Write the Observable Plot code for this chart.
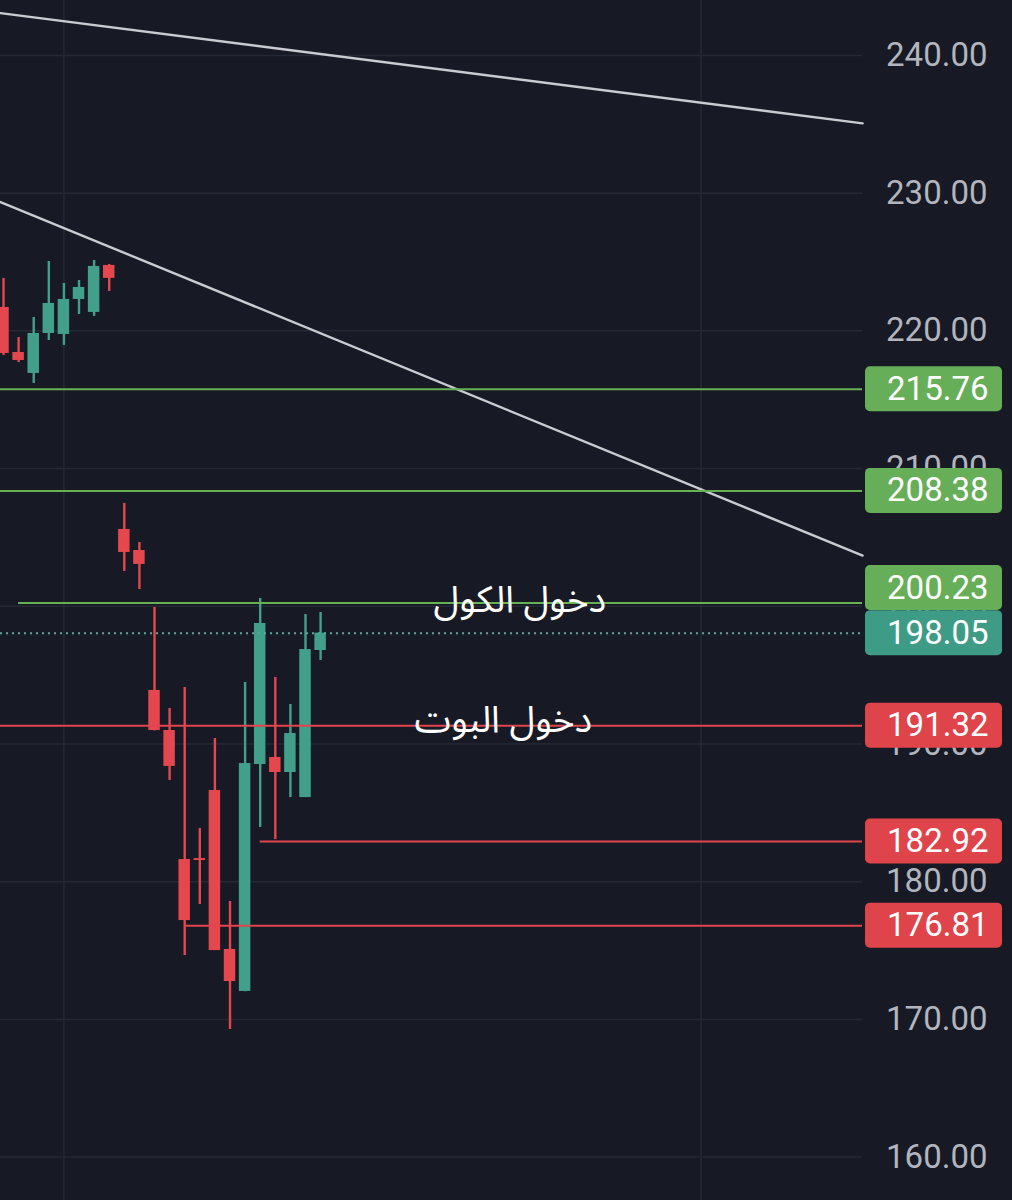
<!DOCTYPE html>
<html>
<head>
<meta charset="utf-8">
<script src="https://cdn.jsdelivr.net/npm/d3@7"></script>
<script src="https://cdn.jsdelivr.net/npm/@observablehq/plot@0.6"></script>
<style>
  html, body { margin: 0; padding: 0; background: #171a25; }
  #chart svg { display: block; }
</style>
</head>
<body>
<div id="chart"></div>
<script>
// ---- data ----
const opens  = [221.70, 218.43, 216.91, 219.81, 219.74, 222.28, 221.34, 224.75, 205.58, 204.05, 193.89, 190.98, 181.61, 181.68, 186.62, 175.08, 172.03, 188.51, 189.02, 187.93, 186.11, 196.79];
const highs  = [223.81, 219.52, 220.97, 225.04, 223.44, 223.66, 225.11, 224.82, 207.47, 204.63, 199.91, 192.58, 194.10, 183.86, 190.40, 178.56, 194.47, 200.57, 194.83, 192.87, 199.40, 199.55];
const lows   = [218.21, 217.70, 216.18, 219.30, 218.94, 221.19, 221.05, 222.86, 202.53, 201.22, 190.95, 187.35, 174.64, 178.34, 175.00, 169.27, 172.00, 183.94, 183.06, 186.11, 186.11, 196.06];
const closes = [218.36, 217.85, 219.81, 221.99, 222.28, 223.15, 224.68, 223.81, 203.91, 203.04, 190.98, 188.37, 177.18, 181.54, 175.00, 172.75, 188.58, 198.75, 187.93, 190.76, 196.86, 198.05];

const levelValues = [215.76, 208.38, 200.23, 191.32, 182.92, 176.81];
const levelKinds  = ["up", "up", "up", "down", "down", "down"];
const levelStarts = [null, null, 1, null, 17, 12];          // bar index where the level line starts
const levelLabelY = [215.76, 208.38, 201.33, 191.32, 182.92, 176.81]; // displayed label position
const lastPrice = 198.05;

const trendStartX = [-0.2, -0.2];
const trendEndX   = [56.9, 56.9];
const trendStartY = [243.07, 229.35];
const trendEndY   = [235.07, 203.68];

const axisTicks = [160, 170, 180, 190, 200, 210, 220, 230, 240];
const gridX = [4, 46.2];

const annoTexts = ["دخول الكول", "دخول البوت"];
const annoX = [34.2, 33.1];
const annoY = [200.45, 191.75];

// ---- styles / layout ----
const bg = "#171a25";
const gridColor = "#252935";
const upColor = "#42a08a";
const downColor = "#e4474e";
const levelUp = "#66b156";
const levelDown = "#e2444b";
const boxUp = "#67ae58";
const boxDown = "#e0444b";
const boxLast = "#3e9c86";
const axisText = "#b2b5be";

const W = 1012, H = 1200, MR = 150;
const plotW = W - MR;
const xDomain = [-0.2, 56.89];
const yDomain = [156.85, 243.99];
const pxToX = px => xDomain[0] + px / plotW * (xDomain[1] - xDomain[0]);
const boxX1 = pxToX(865), boxX2 = pxToX(1002);
const boxHalf = 22.5 * (yDomain[1] - yDomain[0]) / H;

const candles = opens.map((o, i) => ({i, open: o, high: highs[i], low: lows[i], close: closes[i]}));
const candleColor = d => d.close >= d.open ? upColor : downColor;

const levels = levelValues.map((v, k) => ({
  v, kind: levelKinds[k],
  start: levelStarts[k] == null ? xDomain[0] : levelStarts[k],
  labelY: levelLabelY[k],
  text: v.toFixed(2)
}));
const allLabels = [...levels.map(d => ({y: d.labelY, text: d.text, fill: d.kind === "up" ? boxUp : boxDown})),
                   {y: lastPrice, text: lastPrice.toFixed(2), fill: boxLast}];

const trends = trendStartX.flatMap((x, k) => [
  {k, x, y: trendStartY[k]},
  {k, x: trendEndX[k], y: trendEndY[k]}
]);
const annos = annoTexts.map((t, k) => ({t, x: annoX[k], y: annoY[k]}));

const chart = Plot.plot({
  width: W, height: H,
  marginLeft: 0, marginRight: MR, marginTop: 0, marginBottom: 0,
  x: {domain: xDomain, axis: null},
  y: {domain: yDomain, axis: null},
  style: {background: bg, fontFamily: "Roboto, 'Noto Sans', sans-serif"},
  marks: [
    // grid
    Plot.ruleY(axisTicks, {y: d => d, stroke: gridColor, strokeWidth: 1.5}),
    Plot.ruleX(gridX, {x: d => d, stroke: gridColor, strokeWidth: 1.5}),
    // trend lines
    Plot.line(trends, {x: "x", y: "y", z: "k", stroke: "#c9cbd1", strokeWidth: 2.4}),
    // candles
    Plot.ruleX(candles, {x: "i", y1: "low", y2: "high", stroke: candleColor, strokeWidth: 2.4}),
    Plot.rect(candles, {x1: d => d.i - 0.38, x2: d => d.i + 0.38, y1: "open", y2: "close", fill: candleColor}),
    // level lines
    Plot.ruleY(levels, {y: "v", x1: "start", x2: () => xDomain[1], stroke: d => d.kind === "up" ? levelUp : levelDown, strokeWidth: 2}),
    Plot.ruleY([lastPrice], {y: d => d, stroke: "#5ba89a", strokeWidth: 2, strokeDasharray: "2 4"}),
    // annotations
    Plot.text(annos, {x: "x", y: "y", text: "t", fill: "#ffffff", fontSize: 37,
      fontFamily: "'Noto Sans Arabic', 'DejaVu Sans', sans-serif"}),
    // right axis labels
    Plot.text(axisTicks, {y: d => d, text: d => d.toFixed(2), frameAnchor: "right", textAnchor: "end", dx: 125,
      fill: axisText, fontSize: 33}),
    // value boxes
    Plot.rect(allLabels, {x1: () => boxX1, x2: () => boxX2, y1: d => d.y - boxHalf, y2: d => d.y + boxHalf,
      fill: "fill", rx: 5}),
    Plot.text(allLabels, {y: "y", text: "text", frameAnchor: "right", textAnchor: "end", dx: 126,
      fill: "#ffffff", fontSize: 33})
  ]
});
document.getElementById("chart").append(chart);
</script>
</body>
</html>
